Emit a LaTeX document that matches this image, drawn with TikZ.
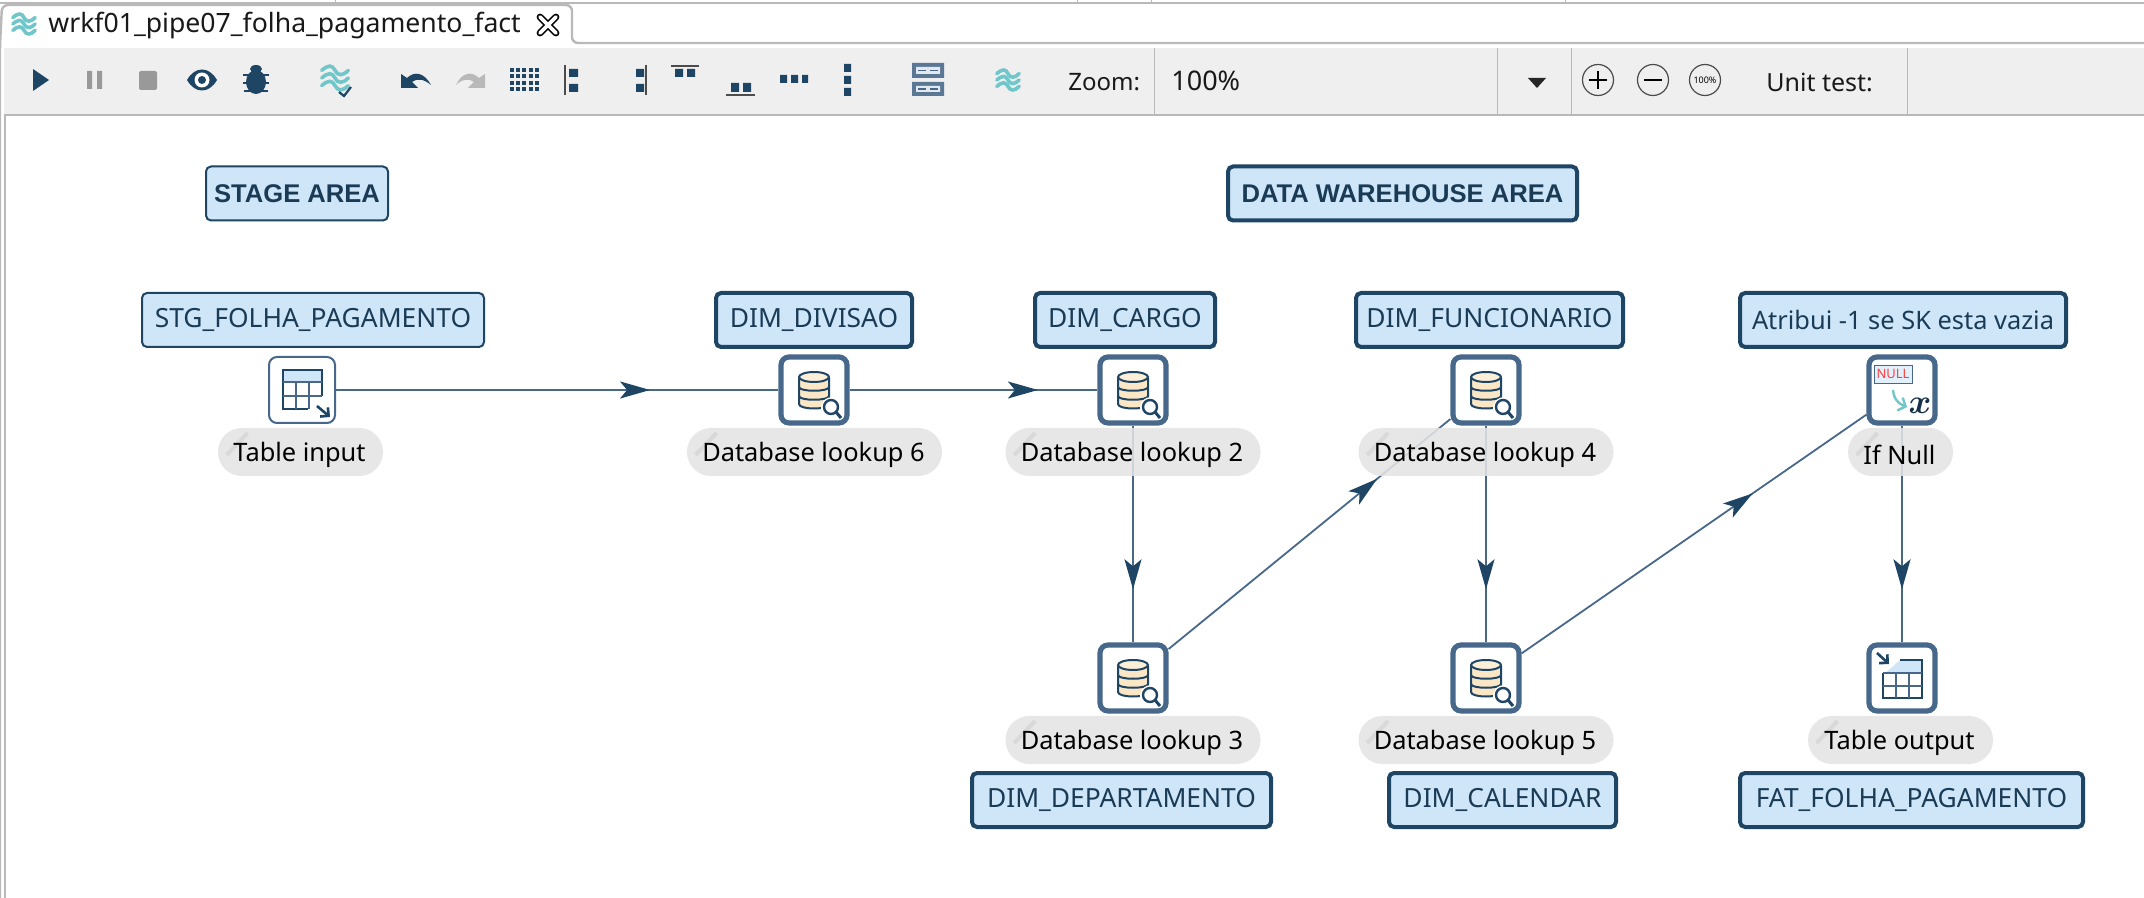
\documentclass[tikz,border=0pt]{standalone}
\usepackage{amsmath,bm}
\usepackage{fontspec}
\usepackage{xcolor}
\usepackage{tikz}
\usetikzlibrary{arrows.meta,backgrounds,decorations.markings}
\setmainfont{Noto Sans}
\newfontfamily\headfont{Liberation Sans}
\definecolor{hopblue}{HTML}{47688A}
\definecolor{hopdark}{HTML}{1F4565}
\definecolor{notefill}{HTML}{CFE6F9}
\definecolor{pillgray}{HTML}{E4E4E4}
\definecolor{barback}{HTML}{EFEFEF}
\definecolor{barline}{HTML}{B9B9B9}
\definecolor{hopteal}{HTML}{71C6CA}
\definecolor{dbcream}{HTML}{FBE7C6}
\tikzset{
  notebox/.style={draw=hopdark, fill=notefill, rounded corners=2.5pt, line width=2pt, minimum height=27pt, inner sep=0pt, text=hopdark!85!black, font=\fontsize{13.2}{14}\selectfont},
  thinnote/.style={notebox, line width=1pt},
  stepbox/.style={draw=hopblue, fill=white, rounded corners=4pt, line width=2.6pt, minimum size=33pt, inner sep=0pt},
  thinstep/.style={stepbox, line width=1pt},
  pill/.style={fill=pillgray, fill opacity=.88, rounded corners=11.9pt, minimum height=24pt, inner sep=0pt},
  pilltext/.style={inner sep=0pt, font=\fontsize{12.7}{14}\selectfont},
  hop/.style={draw=hopblue, line width=.9pt, postaction={decorate}, decoration={markings, mark=at position #1 with {\arrow[hopdark]{Stealth[length=15pt,width=8.5pt,inset=3.5pt]}}}},
  bartext/.style={inner sep=0pt, font=\fontsize{12}{14}\selectfont, text=black!90},
  baricon/.style={hopdark, line width=1pt},
  wavesicon/.pic={
    \foreach \d in {-8,0,8}
      \draw[hopteal, line width=1.8pt, line cap=round] (-14,\d) .. controls (-7,\d-6) and (-3,\d-6) .. (0,\d) .. controls (3,\d+6) and (8,\d+6) .. (14,\d);
  },
  dbicon/.pic={
    \fill[dbcream] (-15,-14) -- (-15,14) .. controls (-15,20) and (15,20) .. (15,14) -- (15,-14) -- cycle;
    \draw[hopdark, line width=1pt] (-15,-12) -- (-15,14) .. controls (-15,20) and (15,20) .. (15,14) -- (15,-12);
    \draw[hopdark, line width=1pt, fill=dbcream!70] (0,-13) ellipse (15 and 5);
    \draw[hopdark, line width=1pt] (-15,-3) .. controls (-15,2) and (15,2) .. (15,-3) (-15,6) .. controls (-15,11) and (15,11) .. (15,6);
    \fill[white] (18,18) circle (11);
    \draw[hopdark, line width=1.2pt] (17,17) circle (7);
    \draw[hopdark, line width=1.5pt] (22,22) -- (27,28);
  },
  tableinicon/.pic={
    \fill[notefill] (-19,-20) rectangle (19,-8);
    \draw[hopdark, line width=1pt] (6,19) -- (-19,19) -- (-19,-20) -- (20,-20) -- (20,6);
    \draw[hopblue, line width=.7pt] (-19,-8) -- (20,-8) (-19,6) -- (20,6) (-6,-8) -- (-6,19) (7,-8) -- (7,19);
    \draw[hopdark, line width=1.3pt, -{Straight Barb[length=3pt,width=6pt]}] (15,16) -- (28,27);
  },
  tableouticon/.pic={
    \fill[notefill] (-12,-9) -- (-2,-18) -- (20,-18) -- (20,-5) -- (-17,-5) -- cycle;
    \draw[hopdark, line width=1pt] (-2,-18) -- (20,-18) -- (20,20) -- (-19,20) -- (-19,-5);
    \draw[hopblue, line width=.8pt] (-19,-5) -- (20,-5) (-19,8) -- (20,8) (-6,-5) -- (-6,20) (7,-5) -- (7,20);
    \draw[hopdark, line width=1.3pt, -{Straight Barb[length=3pt,width=6pt]}] (-25,-25) -- (-13,-14);
  },
  nullicon/.pic={
    \node[draw=hopblue, fill=notefill!60, minimum width=19pt, minimum height=9pt, inner sep=0pt, text=red!75, font=\fontsize{6.5}{6}\selectfont] (nulltag) at (-9,-16) {NULL};
    \draw[hopteal, line width=1.2pt, -{Straight Barb[length=3pt,width=7pt]}, rounded corners=4pt] (-9,0) -- (-7,12) -- (5,17);
    \node[inner sep=0pt, font=\fontsize{17}{17}\selectfont, text=hopdark!70!black] (nullx) at (18,16) {$\bm{x}$};
  },
}
\begin{document}
\begin{tikzpicture}[x=.5pt,y=-.5pt]
  \useasboundingbox (0,0) rectangle (2144,898);
  \begin{pgfonlayer}{background}
    % window frame
    \fill[white] (0,0) rectangle (2144,898);
    \fill[barback] (4,48) rectangle (2144,114);
    \draw[barline, line width=1.2pt] (0,3) -- (2144,3);
    \foreach \x in {335,1077,1151,1565}
      \draw[barline, line width=.4pt] (\x,0) -- (\x,3);
    \draw[barline, line width=1.2pt, rounded corners=3pt] (0,898) -- (0,46) -- (2,5) -- (572,5) -- (572,43) -- (2144,43);
    \draw[barline, line width=1.2pt] (5,898) -- (5,115) -- (2144,115);
    \foreach \x in {1154,1497,1571,1907}
      \draw[barline, line width=.5pt] (\x,48) -- (\x,114);
  \end{pgfonlayer}

  % tab and toolbar
  \pic[scale=.8] at (24,24) {wavesicon};
  \node[bartext, anchor=west, font=\fontsize{13.3}{14}\selectfont] (tabtitle) at (48,26) {wrkf01\_pipe07\_folha\_pagamento\_fact};
  \draw[black, line width=3.4pt, line cap=round] (540,17) -- (556,33) (556,17) -- (540,33);
  \draw[white, line width=1.8pt, line cap=round] (540,17) -- (556,33) (556,17) -- (540,33);
  \fill[hopdark] (33,69) -- (49,80) -- (33,91) -- cycle;
  \fill[gray!80] (87,71) rectangle (92,89) (97,71) rectangle (102,89);
  \fill[gray!80, rounded corners=1pt] (139,71) rectangle (157,90);
  \fill[hopdark] (187,80) .. controls (195,66) and (209,66) .. (217,80) .. controls (209,94) and (195,94) .. (187,80) -- cycle;
  \fill[white] (202,80) circle (7.5);
  \fill[hopdark] (202,80) circle (4);
  \fill[hopdark] (256,82) ellipse (10 and 12);
  \fill[hopdark] (256,69) ellipse (6 and 4);
  \draw[hopdark, line width=.8pt] (243,75) -- (269,75) (243,83) -- (269,83) (244,91) -- (268,91);
  \pic[scale=.95] at (335,78) {wavesicon};
  \draw[baricon, line width=1.1pt] (339,92) -- (344,96) -- (351,87);
  \fill[hopdark] (401,74) -- (407,78) .. controls (414,71) and (424,72) .. (431,85) .. controls (424,79) and (417,78) .. (412,82) -- (418,88) -- (401,88) -- cycle;
  \fill[gray!55] (485,74) -- (479,78) .. controls (472,71) and (462,72) .. (456,85) .. controls (462,79) and (469,78) .. (474,82) -- (468,88) -- (485,88) -- cycle;
  \foreach \i in {0,...,4} \foreach \j in {0,...,3}
    \fill[hopdark] (510+6.2*\i,68+6.4*\j) rectangle +(4,4);
  \draw[black!70, line width=1pt] (565,65) -- (565,95);
  \fill[hopdark] (569,69) rectangle (578,77) (569,84) rectangle (578,92);
  \draw[black!70, line width=1pt] (646,65) -- (646,95);
  \fill[hopdark] (636,69) rectangle (644,77) (636,84) rectangle (644,92);
  \draw[black!70, line width=1pt] (671,66) -- (699,66);
  \fill[hopdark] (675,69) rectangle (683,77) (687,69) rectangle (695,77);
  \draw[black!70, line width=1pt] (726,95) -- (755,95);
  \fill[hopdark] (731,83) rectangle (739,92) (743,83) rectangle (751,92);
  \fill[hopdark] (780,75) rectangle (787,83) (791,75) rectangle (798,83) (802,75) rectangle (808,83);
  \fill[hopdark] (844,64) rectangle (851,72) (844,76) rectangle (851,84) (844,88) rectangle (851,96);
  \fill[hopblue!90] (912,63) rectangle (944,78) (912,82) rectangle (944,96);
  \fill[white!85!hopblue] (916,67) rectangle (940,74) (916,86) rectangle (940,92);
  \draw[hopblue, line width=.7pt] (918,70.5) -- (926,70.5) (930,70.5) -- (938,70.5) (918,89) -- (926,89) (930,89) -- (938,89);
  \pic[scale=.8] at (1008,80) {wavesicon};
  \node[bartext, anchor=west] (zoomlabel) at (1068,82) {Zoom:};
  \node[bartext, anchor=west, font=\fontsize{13.5}{14}\selectfont] (zoomvalue) at (1171,81) {100\%};
  \fill[black!85] (1528,78) -- (1546,78) -- (1537,88) -- cycle;
  \node[draw=black!70, circle, minimum size=15.5pt, inner sep=0pt, line width=.6pt] (zoomin) at (1598,80) {};
  \draw[black, line width=1pt] (1589,80) -- (1607,80) (1598,71) -- (1598,89);
  \node[draw=black!70, circle, minimum size=15.5pt, inner sep=0pt, line width=.6pt] (zoomout) at (1653,80) {};
  \draw[black, line width=1pt] (1644,80) -- (1662,80);
  \node[draw=black!70, circle, minimum size=15.5pt, inner sep=0pt, line width=.6pt, font=\fontsize{4.5}{5}\selectfont] (zoomreset) at (1705,80) {100\%};
  \node[bartext, anchor=west, font=\fontsize{12.5}{14}\selectfont] (unitlabel) at (1766,82) {Unit test:};

  % notes
  \foreach \n/\x/\y/\w/\t in {divisao/814/320/98/DIM\_DIVISAO,cargo/1125/320/90/DIM\_CARGO,funcionario/1489.5/320/133.5/DIM\_FUNCIONARIO,departamento/1121.5/800/149.5/DIM\_DEPARTAMENTO,calendar/1502.5/800/113.5/DIM\_CALENDAR,fat/1911.5/800/171.5/FAT\_FOLHA\_PAGAMENTO}
    \node[notebox, minimum width=\w pt] (\n) at (\x,\y) {\t};
  \node[notebox, minimum width=163pt, font=\fontsize{12.7}{14}\selectfont] (atribui) at (1903,320) {Atribui -1 se SK esta vazia};
  \node[thinnote, minimum width=171pt] (stg) at (313,320) {STG\_FOLHA\_PAGAMENTO};
  \node[thinnote, minimum width=91pt, font=\fontsize{12.8}{14}\headfont\bfseries] (stagearea) at (297,193.5) {STAGE AREA};
  \node[notebox, minimum width=174.5pt, font=\fontsize{12.8}{14}\headfont\bfseries] (dwarea) at (1402.5,193.5) {DATA WAREHOUSE AREA};

  % steps
  \node[thinstep] (tableinput) at (302,390) {};
  \foreach \n/\x/\y in {lookupsix/814/390,lookuptwo/1133/390,lookupfour/1486/390,ifnull/1902/390,lookupthree/1133/678,lookupfive/1486/678,tableoutput/1902/678}
    \node[stepbox] (\n) at (\x,\y) {};
  \foreach \n in {lookupsix,lookuptwo,lookupfour,lookupthree,lookupfive}
    \pic at (\n) {dbicon};
  \pic at (tableinput) {tableinicon};
  \pic at (tableoutput) {tableouticon};
  \pic at (ifnull) {nullicon};

  % step labels
  \foreach \n/\x/\y/\w/\t in {pillinput/300.5/452/82.5/Table input,pillsix/814.5/452/127.5/Database lookup 6,pilltwo/1133/452/127.5/Database lookup 2,pillfour/1486/452/127.5/Database lookup 4,pillnull/1900.5/452/52.5/If Null,pillthree/1133/740/127.5/Database lookup 3,pillfive/1486/740/127.5/Database lookup 5,pilloutput/1900.5/740/92.5/Table output}{
    \node[pill, minimum width=\w pt] (\n) at (\x,\y) {};
    \draw[gray!30, line width=2pt] ([shift={(9,3)}]\n.west) -- ([shift={(30,-19)}]\n.west);
    \node[pilltext] (\n text) at (\x-1,\y+3) {\t};
  }

  \begin{pgfonlayer}{background}
    % hops
    \draw[hop=.71] (tableinput) -- (lookupsix);
    \draw[hop=.76] (lookupsix) -- (lookuptwo);
    \draw[hop=.755] (lookuptwo) -- (lookupthree);
    \draw[hop=.74] (lookupthree) -- (lookupfour);
    \draw[hop=.755] (lookupfour) -- (lookupfive);
    \draw[hop=.67] (lookupfive) -- (ifnull);
    \draw[hop=.755] (ifnull) -- (tableoutput);
  \end{pgfonlayer}
\end{tikzpicture}
\end{document}
